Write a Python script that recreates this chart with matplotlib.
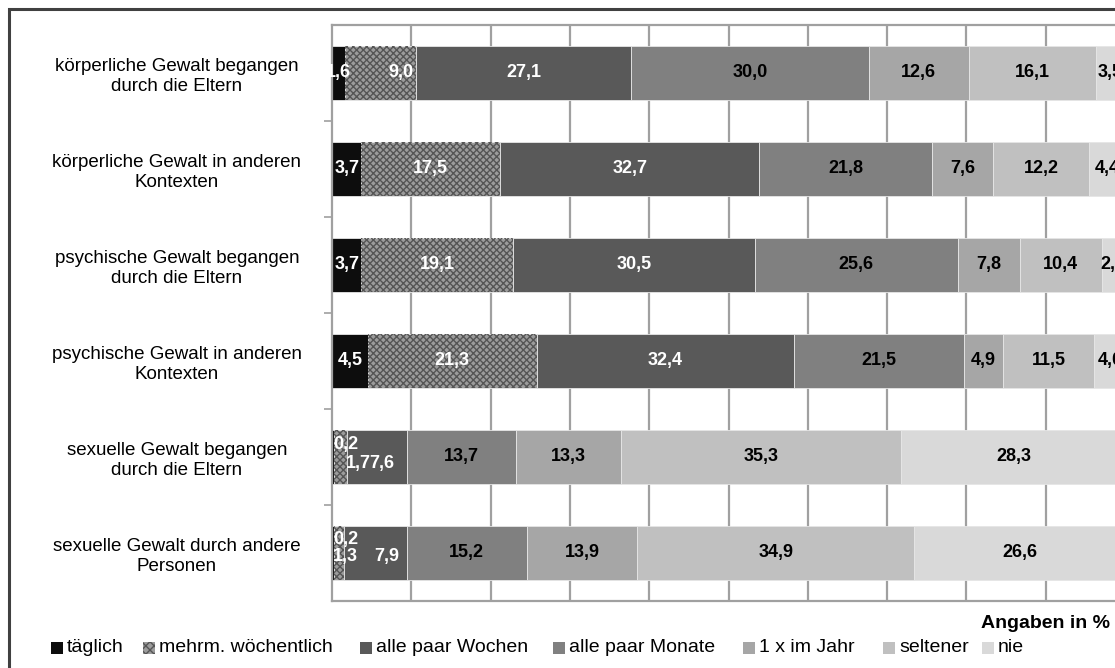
import matplotlib
matplotlib.use("Agg")
import matplotlib.pyplot as plt
import matplotlib.transforms as mtransforms
from matplotlib.patches import Rectangle

plt.rcParams['font.family'] = ['Liberation Sans', 'DejaVu Sans']

categories = [
    "körperliche Gewalt begangen\ndurch die Eltern",
    "körperliche Gewalt in anderen\nKontexten",
    "psychische Gewalt begangen\ndurch die Eltern",
    "psychische Gewalt in anderen\nKontexten",
    "sexuelle Gewalt begangen\ndurch die Eltern",
    "sexuelle Gewalt durch andere\nPersonen",
]
series_names = ["täglich", "mehrm. wöchentlich", "alle paar Wochen",
                "alle paar Monate", "1 x im Jahr", "seltener", "nie"]
taeglich     = [1.6, 3.7, 3.7, 4.5, 0.2, 0.2]
woechentlich = [9.0, 17.5, 19.1, 21.3, 1.7, 1.3]
wochen       = [27.1, 32.7, 30.5, 32.4, 7.6, 7.9]
monate       = [30.0, 21.8, 25.6, 21.5, 13.7, 15.2]
jahr         = [12.6, 7.6, 7.8, 4.9, 13.3, 13.9]
seltener     = [16.1, 12.2, 10.4, 11.5, 35.3, 34.9]
nie          = [3.5, 4.4, 2.8, 4.0, 28.3, 26.6]
series = [taeglich, woechentlich, wochen, monate, jahr, seltener, nie]

colors = ['#0d0d0d', '#9c9c9c', '#595959', '#808080', '#a6a6a6', '#c0c0c0', '#d9d9d9']
text_colors = ['white', 'white', 'white', 'black', 'black', 'black', 'black']
hatch_color = '#555555'

# manual label placement tweaks for crowded segments: (row, series) -> (x, dy, ha)
label_tweaks = {
    (0, 1): (8.7, 0.0, 'center'),
    (4, 0): (0.1, -0.125, 'left'),
    (4, 1): (1.7, 0.065, 'left'),
    (4, 2): (6.3, 0.065, 'center'),
    (5, 0): (0.1, -0.14, 'left'),
    (5, 1): (0.1, 0.04, 'left'),
    (5, 2): (6.9, 0.04, 'center'),
}

W, H = 1115, 668
fig = plt.figure(figsize=(W / 100, H / 100), dpi=100)
fig.patch.set_facecolor('white')

# outer frame
fig.add_artist(Rectangle((9 / W, -0.05), 1.2, (1 - 9 / H) + 0.05, transform=fig.transFigure,
                         fill=False, edgecolor='#404040', linewidth=2.2))

left_px, right_px, top_px, bot_px = 332, 1125, 25, 601
ax = fig.add_axes([left_px / W, 1 - bot_px / H, (right_px - left_px) / W, (bot_px - top_px) / H])
ax.set_xlim(0, 100)
ax.set_ylim(len(categories) - 0.5, -0.5)
ax.set_facecolor('none')

grid_c = '#a0a0a0'
for x in range(10, 101, 10):
    ax.axvline(x, color=grid_c, linewidth=1.6, zorder=0)
for s in ['left', 'top', 'bottom']:
    ax.spines[s].set_color(grid_c)
    ax.spines[s].set_linewidth(1.6)
ax.spines['right'].set_visible(False)

ypos = list(range(len(categories)))
bar_h = 0.565
lefts = [0.0] * len(categories)
plt.rcParams['hatch.linewidth'] = 1.0
for k, vals in enumerate(series):
    ax.barh(ypos, vals, left=lefts, height=bar_h, color=colors[k], edgecolor='#e6e6e6',
            linewidth=0.6, zorder=2)
    if k == 1:
        ax.barh(ypos, vals, left=lefts, height=bar_h, facecolor='none', edgecolor=hatch_color,
                hatch='xxxxx', linewidth=0, zorder=3)
    for i, v in enumerate(vals):
        label = f"{v:.1f}".replace('.', ',')
        cx, cy, ha = lefts[i] + v / 2, ypos[i], 'center'
        if (i, k) in label_tweaks:
            tx, dy, ha = label_tweaks[(i, k)]
            cx, cy = tx, ypos[i] + dy
        ax.text(cx, cy, label, ha=ha, va='center', fontsize=13, fontweight='bold',
                color=text_colors[k], zorder=5)
    lefts = [a + b for a, b in zip(lefts, vals)]

ax.set_yticks([i + 0.5 for i in range(len(categories) - 1)])
ax.set_yticklabels([])
ax.tick_params(axis='y', direction='out', length=6, color=grid_c, width=1.2)
ax.set_xticks([])

trans = mtransforms.blended_transform_factory(fig.transFigure, ax.transData)
for i, c in enumerate(categories):
    ax.text(177 / W, i + 0.035, c, transform=trans, ha='center', va='center', fontsize=13.5,
            linespacing=1.22, clip_on=False)

fig.text(1110 / W, 1 - 624 / H, "Angaben in %", ha='right', va='center', fontsize=14,
         fontweight='bold')

# legend, drawn item by item
leg_x = [51, 143, 360, 553, 743, 883, 982]
leg_y = 647.5
sq = 12
for k, name in enumerate(series_names):
    x0 = leg_x[k]
    fig.add_artist(Rectangle((x0 / W, 1 - (leg_y + sq / 2) / H), sq / W, sq / H,
                             transform=fig.transFigure, facecolor=colors[k], edgecolor='none'))
    if k == 1:
        fig.add_artist(Rectangle((x0 / W, 1 - (leg_y + sq / 2) / H), sq / W, sq / H,
                                 transform=fig.transFigure, facecolor='none',
                                 edgecolor=hatch_color, hatch='xxxx', linewidth=0))
    fig.text((x0 + sq + 4) / W, 1 - leg_y / H, name, ha='left', va='center', fontsize=14)

fig.savefig("out.png", dpi=100)
